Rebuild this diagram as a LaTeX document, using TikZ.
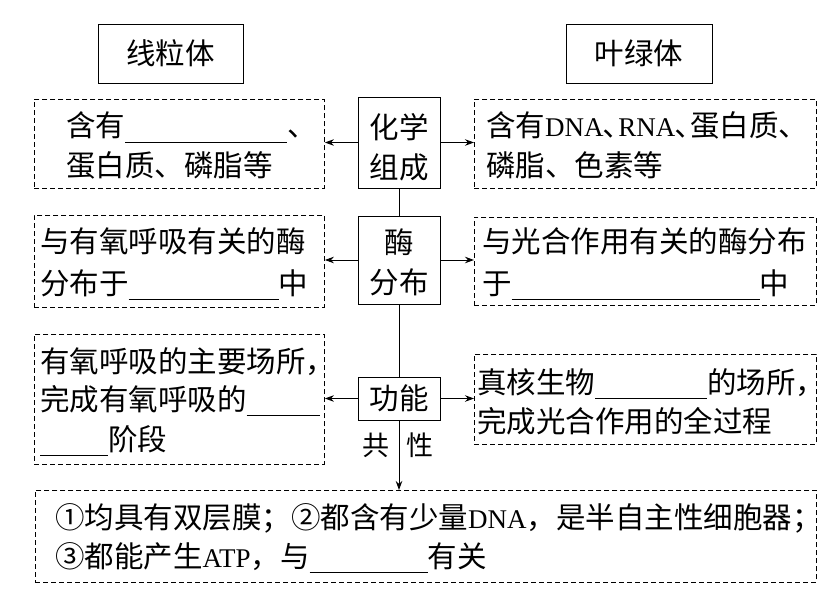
\documentclass[tikz,border=0pt]{standalone}
\usepackage{fontspec}
\setmainfont{Liberation Serif}
\newfontfamily\cjk{Noto Sans CJK SC}
\usetikzlibrary{arrows.meta}
\newcommand\la[1]{{\rmfamily\fontsize{27bp}{30bp}\selectfont #1}}
\newcommand\hw[1]{{\addfontfeature{RawFeature=+halt}#1}}
\newcommand\blank[1]{\rule[-6bp]{#1bp}{0.9bp}}
\begin{document}
\begin{tikzpicture}[x=1bp,y=-1bp,
  solidbox/.style={draw, line width=0.9bp, inner sep=0pt, font=\cjk\fontsize{29.5bp}{36bp}\selectfont},
  dbox/.style={draw, line width=0.9bp, dash pattern=on 5bp off 3bp, inner sep=0pt, anchor=north west},
  txt/.style={anchor=base west, inner sep=0pt, font=\cjk\fontsize{29.5bp}{36bp}\selectfont},
  twoline/.style={inner sep=0pt, align=center, font=\cjk\fontsize{29.5bp}{40bp}\selectfont},
  arr/.style={line width=0.9bp, -{Stealth[length=9bp,width=6.5bp]}},
  conn/.style={line width=0.9bp}]
\useasboundingbox (0,0) rectangle (824,597);

% title boxes
\node[solidbox, minimum width=145bp, minimum height=59bp] (xlt) at (170.5,53.5) {线粒体};
\node[solidbox, minimum width=146bp, minimum height=59bp] (ylt) at (639,53.5) {叶绿体};

% centre boxes
\node[solidbox, minimum width=82bp, minimum height=91bp] (hx) at (399,142.5) {};
\node[twoline] (hxt) at (399,147) {化学\\组成};
\node[solidbox, minimum width=82bp, minimum height=88bp] (mf) at (399,260) {};
\node[twoline] (mft) at (399,262) {酶\\分布};
\node[solidbox, minimum width=82bp, minimum height=43bp] (gn) at (399,398.5) {功能};

% dashed boxes
\node[dbox, minimum width=290bp, minimum height=89bp] (l1) at (34,99) {};
\node[dbox, minimum width=342bp, minimum height=89bp] (r1) at (474,99) {};
\node[dbox, minimum width=290bp, minimum height=92bp] (l2) at (34,215) {};
\node[dbox, minimum width=342bp, minimum height=88bp] (r2) at (474,217) {};
\node[dbox, minimum width=290bp, minimum height=130bp] (l3) at (34,334) {};
\node[dbox, minimum width=342bp, minimum height=90bp] (r3) at (474,354) {};
\node[dbox, minimum width=781bp, minimum height=92bp] (bt) at (35,490) {};

% texts
\node[txt] (l1a) at (66,137) {含有\blank{162}、};
\node[txt] (l1b) at (66,177) {蛋白质、磷脂等};
\node[txt] (r1a) at (486,137) {含有\la{DNA}､\la{RNA}､蛋白质、};
\node[txt] (r1b) at (486,177) {磷脂、色素等};
\node[txt] (l2a) at (40,252) {与有氧呼吸有关的酶};
\node[txt] (l2b) at (40,294) {分布于\blank{150}中};
\node[txt] (r2a) at (482,252) {与光合作用有关的酶分布};
\node[txt] (r2b) at (482,294) {于\blank{248}中};
\node[txt] (l3a) at (40,372) {有氧呼吸的主要场所\hw{，}};
\node[txt] (l3b) at (40,410) {完成有氧呼吸的\blank{73}};
\node[txt] (l3c) at (40,450) {\blank{68}阶段};
\node[txt] (r3a) at (477,393) {真核生物\blank{112}的场所\hw{，}};
\node[txt] (r3b) at (477,432) {完成光合作用的全过程};
\node[txt] (b1) at (55,528) {①均具有双层膜；②都含有少量\la{DNA}，是半自主性细胞器；};
\node[txt] (b2) at (55,567) {③都能产生\la{ATP}，与\blank{118}有关};

\node[inner sep=0pt, font=\cjk\fontsize{27bp}{30bp}\selectfont] (gong) at (376,445) {共};
\node[inner sep=0pt, font=\cjk\fontsize{27bp}{30bp}\selectfont] (xing) at (420,445) {性};

% connectors
\draw[arr] (hx.west) -- (hx.west -| l1.east);
\draw[arr] (hx.east) -- (hx.east -| r1.west);
\draw[arr] (mf.west) -- (mf.west -| l2.east);
\draw[arr] (mf.east) -- (mf.east -| r2.west);
\draw[arr] (gn.west) -- (gn.west -| l3.east);
\draw[arr] (gn.east) -- (gn.east -| r3.west);
\draw[conn] (hx.south) -- (mf.north);
\draw[conn] (mf.south) -- (gn.north);
\draw[arr] (gn.south) -- (gn.south |- bt.north);
\end{tikzpicture}
\end{document}
